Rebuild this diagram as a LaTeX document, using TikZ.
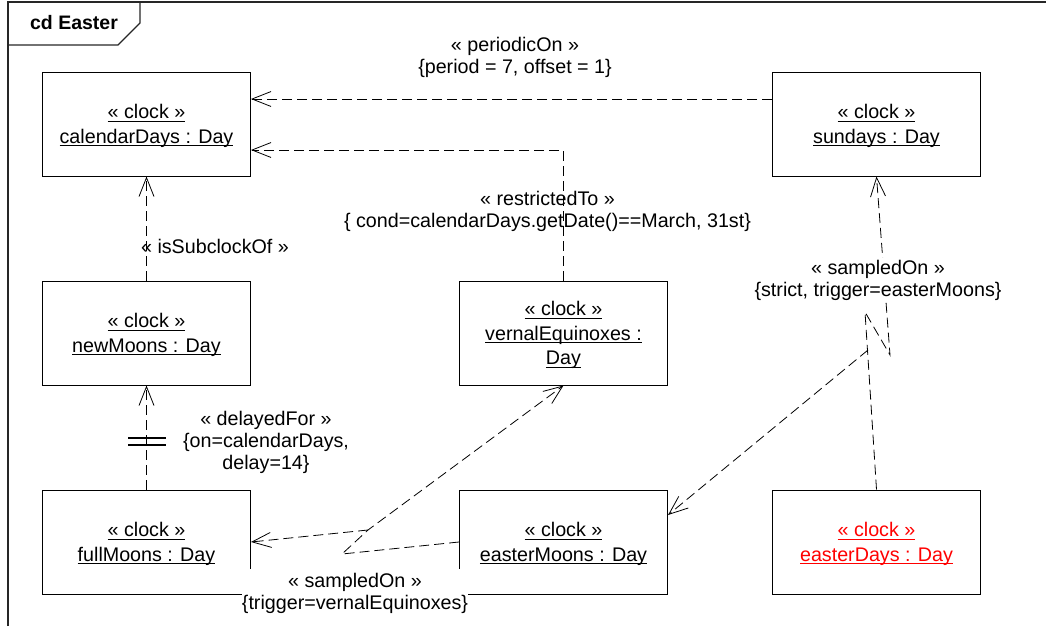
\documentclass[tikz,border=0pt]{standalone}
\usepackage{fontspec}
\setmainfont{Liberation Sans}
\usetikzlibrary{arrows.meta}
\newcommand\myul[1]{\setbox0\hbox{#1}\rlap{\rule[-2.8pt]{\wd0}{0.9pt}}\box0}
\begin{document}
\begin{tikzpicture}[x=1pt,y=-1pt,
  clk/.style={draw=black, line width=1pt, fill=white, minimum width=208pt, minimum height=104pt, inner sep=0pt, align=center, text depth=-0.5pt, font=\fontsize{19.7}{24.5}\selectfont},
  lbl/.style={align=center, inner sep=0pt, font=\fontsize{19.7}{22}\selectfont},
  dep/.style={draw=black, line width=0.8pt, dash pattern=on 10pt off 5pt},
  arr/.style={-{Straight Barb[length=19pt,width=15pt,line width=0.8pt]}},
  frm/.style={draw=black!85, line width=1.2pt}]
\useasboundingbox (0,0) rectangle (1046,626);
% frame and title tab
\draw[frm] (8,626) -- (8,2) -- (1046,2);
\draw[frm] (8,45) -- (118,45) -- (140,23) -- (140,2);
\node[font=\fontsize{19.5}{22}\selectfont\bfseries, inner sep=0pt] (title) at (74,23) {cd Easter};
% clocks
\node[clk] (cal) at (146.5,124) {\myul{« clock »}\\\myul{calendarDays : Day}};
\node[clk] (sun) at (876.5,124) {\myul{« clock »}\\\myul{sundays : Day}};
\node[clk] (newm) at (146.5,333) {\myul{« clock »}\\\myul{newMoons : Day}};
\node[clk] (vern) at (563.5,333) {\myul{« clock »}\\\myul{vernalEquinoxes :}\\\myul{Day}};
\node[clk] (full) at (146.5,542) {\myul{« clock »}\\\myul{fullMoons : Day}};
\node[clk] (emoon) at (563.5,542) {\myul{« clock »}\\\myul{easterMoons : Day}};
\node[clk, text=red] (eday) at (876.5,542) {\myul{« clock »}\\\myul{easterDays : Day}};
% periodicOn
\draw[dep, arr] ([yshift=25pt]sun.west) -- ([yshift=25pt]cal.east);
\node[lbl] (lperiod) at (515,57.5) {« periodicOn »\\\{period = 7, offset = 1\}};
% restrictedTo
\draw[dep, arr] (vern.north) |- ([yshift=-26pt]cal.east);
\node[lbl] (lrestr) at (547.5,211) {« restrictedTo »\\\{ cond=calendarDays.getDate()==March, 31st\}};
% isSubclockOf
\draw[dep, arr] (newm.north) -- (cal.south);
\node[lbl] (lsub) at (215,246) {« isSubclockOf »};
% delayedFor
\draw[dep, arr] (full.north) -- (newm.south);
\draw[line width=1.3pt] (128,438) -- (166,438) (128,445) -- (166,445);
\node[lbl] (ldelay) at (266,442) {« delayedFor »\\\{on=calendarDays,\\delay=14\}};
% sampledOn (right)
\coordinate (p1) at (865,312);
\coordinate (p2) at (890,355);
\coordinate (q) at (868,350);
\draw[dep, arr] (eday.north) -- (p1) -- (p2) -- (sun.south);
\draw[dep, arr] (q) -- ([yshift=27pt]emoon.east);
\node[lbl, fill=white, inner ysep=2pt] (lsamp1) at (878,280) {« sampledOn »\\\{strict, trigger=easterMoons\}};
% sampledOn (bottom)
\coordinate (a) at (342,554);
\coordinate (b) at (368,530);
\draw[dep, arr] (emoon.west) -- (a) -- (b) -- (vern.south);
\draw[dep, arr] (b) -- (full.east);
\node[lbl, fill=white, inner ysep=4pt] (lsamp2) at (355,593) {« sampledOn »\\\{trigger=vernalEquinoxes\}};
\end{tikzpicture}
\end{document}
